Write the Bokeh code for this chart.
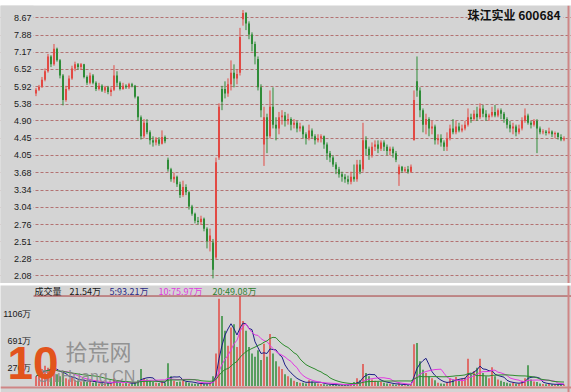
import pandas as pd
from bokeh.plotting import figure
from bokeh.layouts import column
from bokeh.models import (Range1d, FixedTicker, PrintfTickFormatter, Span, Label,
                          ColumnDataSource, Spacer, BoxAnnotation)
from bokeh.core.properties import value
from bokeh.embed import file_html
from bokeh.resources import INLINE

# ---------------- data ----------------
opens = [5.70, 5.82, 5.92, 6.15, 6.45, 7.00, 6.70, 7.30, 6.85, 6.30,
         5.50, 5.85, 6.20, 6.55, 6.70, 6.60, 6.70, 6.25, 6.05, 6.30,
         6.05, 5.85, 5.95, 5.80, 5.90, 5.75, 5.82, 6.30, 6.05, 5.85,
         5.95, 5.90, 6.00, 5.95, 5.60, 5.00, 4.50, 4.85, 4.60, 4.40,
         4.35, 4.42, 4.32, 4.48, 3.95, 3.75, 3.55, 3.60, 3.45, 3.25,
         3.40, 3.30, 3.05, 2.93, 2.82, 2.80, 2.85, 2.70, 2.52, 2.50,
         2.30, 4.00, 5.85, 5.85, 5.70, 6.00, 6.40, 6.20, 6.40, 8.60,
         8.90, 8.40, 7.90, 7.50, 6.90, 5.90, 4.30, 5.00, 4.50, 5.30,
         4.80, 4.70, 5.00, 5.05, 4.90, 4.95, 4.80, 4.85, 4.70, 4.75,
         4.55, 4.45, 4.65, 4.50, 4.40, 4.45, 4.50, 4.30, 4.10, 4.00,
         3.85, 3.75, 3.65, 3.60, 3.55, 3.50, 3.60, 3.55, 3.85, 3.75,
         4.40, 4.20, 4.05, 4.25, 4.30, 4.20, 4.35, 4.25, 4.15, 4.20,
         4.10, 3.65, 3.80, 3.72, 3.75, 3.70, 4.40, 6.10, 5.80, 5.20,
         4.80, 4.95, 4.70, 4.75, 4.40, 4.45, 4.35, 4.25, 4.45, 4.70,
         4.60, 4.75, 4.65, 4.70, 4.80, 5.00, 4.95, 5.10, 5.00, 5.25,
         5.10, 5.00, 5.05, 5.15, 5.05, 5.20, 5.10, 4.95, 4.80, 4.70,
         4.75, 4.60, 4.70, 4.90, 5.05, 4.85, 4.80, 4.90, 4.70, 4.60,
         4.62, 4.58, 4.62, 4.55, 4.58, 4.48, 4.42]
highs = [5.88, 5.98, 6.25, 6.55, 7.10, 7.05, 7.50, 7.35, 6.90, 6.35,
         5.95, 6.30, 6.65, 6.80, 6.75, 6.75, 6.72, 6.30, 6.40, 6.35,
         6.10, 6.05, 6.00, 5.95, 5.95, 5.90, 6.67, 6.45, 6.10, 6.05,
         6.00, 6.05, 6.05, 5.98, 5.62, 5.05, 4.95, 4.95, 4.65, 4.50,
         4.48, 4.48, 4.65, 4.52, 4.00, 3.78, 3.68, 3.62, 3.50, 3.52,
         3.45, 3.32, 3.08, 2.95, 2.88, 2.90, 2.87, 2.72, 2.70, 2.55,
         4.00, 5.40, 5.95, 6.10, 6.20, 6.85, 6.70, 6.50, 8.20, 9.05,
         8.95, 8.50, 8.00, 7.60, 7.00, 6.00, 5.30, 5.10, 5.80, 5.90,
         5.00, 5.15, 5.20, 5.15, 5.10, 5.00, 4.95, 4.90, 4.85, 4.78,
         4.60, 4.80, 4.70, 4.55, 4.55, 4.55, 4.52, 4.35, 4.15, 4.05,
         3.90, 3.80, 3.70, 3.65, 3.62, 3.70, 3.85, 3.95, 3.95, 4.85,
         4.50, 4.25, 4.35, 4.40, 4.40, 4.40, 4.40, 4.30, 4.25, 4.25,
         4.15, 3.85, 3.82, 3.80, 3.82, 3.85, 5.80, 7.00, 5.90, 5.25,
         5.10, 5.00, 4.90, 4.80, 4.55, 4.55, 4.40, 4.60, 4.80, 4.95,
         4.90, 4.85, 4.80, 4.90, 5.25, 5.10, 5.20, 5.30, 5.40, 5.35,
         5.20, 5.10, 5.30, 5.35, 5.25, 5.25, 5.15, 5.00, 4.90, 4.85,
         4.80, 4.80, 5.00, 5.25, 5.10, 4.90, 4.95, 4.95, 4.75, 4.68,
         4.66, 4.72, 4.65, 4.62, 4.60, 4.55, 4.50]
lows = [5.62, 5.78, 5.88, 6.10, 6.40, 6.60, 6.65, 6.80, 6.20, 5.34,
        5.45, 5.80, 6.15, 6.45, 6.50, 6.50, 6.20, 5.98, 6.00, 6.00,
        5.78, 5.80, 5.75, 5.72, 5.68, 5.62, 5.78, 5.95, 5.80, 5.82,
        5.85, 5.85, 5.90, 5.55, 4.90, 4.42, 4.45, 4.55, 4.30, 4.25,
        4.28, 4.27, 4.30, 4.33, 3.70, 3.50, 3.48, 3.40, 3.20, 3.22,
        3.25, 3.00, 2.90, 2.78, 2.76, 2.76, 2.66, 2.42, 2.38, 2.05,
        2.28, 3.95, 5.20, 5.55, 5.60, 5.80, 5.90, 6.00, 6.30, 8.30,
        8.10, 7.70, 7.20, 6.70, 5.80, 5.00, 3.82, 4.10, 4.45, 4.70,
        4.40, 4.55, 4.80, 4.75, 4.80, 4.65, 4.70, 4.60, 4.62, 4.45,
        4.30, 4.40, 4.45, 4.30, 4.35, 4.35, 4.20, 3.95, 3.90, 3.80,
        3.65, 3.58, 3.50, 3.48, 3.45, 3.45, 3.50, 3.50, 3.65, 3.70,
        4.05, 3.95, 4.00, 4.15, 4.10, 4.15, 4.15, 4.05, 4.05, 4.00,
        3.90, 3.42, 3.68, 3.68, 3.66, 3.68, 4.40, 5.60, 5.00, 4.60,
        4.55, 4.50, 4.55, 4.30, 4.30, 4.25, 4.15, 4.15, 4.40, 4.55,
        4.55, 4.60, 4.60, 4.65, 4.75, 4.85, 4.90, 4.90, 4.95, 5.00,
        4.90, 4.90, 5.00, 5.00, 5.00, 4.95, 4.85, 4.70, 4.60, 4.55,
        4.50, 4.55, 4.65, 4.85, 4.80, 4.70, 4.75, 4.10, 4.55, 4.55,
        4.52, 4.55, 4.48, 4.45, 4.42, 4.38, 4.38]
closes = [5.82, 5.92, 6.15, 6.45, 7.00, 6.70, 7.30, 6.85, 6.30, 5.50,
          5.85, 6.20, 6.55, 6.70, 6.60, 6.70, 6.25, 6.05, 6.30, 6.05,
          5.85, 5.95, 5.80, 5.90, 5.75, 5.82, 6.30, 6.05, 5.85, 5.95,
          5.90, 6.00, 5.95, 5.60, 5.00, 4.50, 4.85, 4.60, 4.40, 4.35,
          4.42, 4.32, 4.48, 4.38, 3.75, 3.55, 3.60, 3.45, 3.25, 3.40,
          3.30, 3.05, 2.93, 2.82, 2.80, 2.85, 2.70, 2.52, 2.60, 2.15,
          3.90, 5.30, 5.45, 5.70, 6.00, 6.40, 6.20, 6.35, 7.80, 8.90,
          8.40, 7.90, 7.50, 7.00, 5.90, 5.20, 5.00, 4.50, 5.30, 4.80,
          4.70, 5.00, 5.05, 4.90, 4.95, 4.80, 4.85, 4.70, 4.75, 4.55,
          4.45, 4.65, 4.50, 4.40, 4.45, 4.50, 4.30, 4.10, 4.00, 3.85,
          3.75, 3.65, 3.60, 3.55, 3.50, 3.60, 3.55, 3.85, 3.70, 4.40,
          4.20, 4.05, 4.25, 4.30, 4.20, 4.35, 4.25, 4.15, 4.20, 4.10,
          3.95, 3.80, 3.72, 3.75, 3.70, 3.80, 5.50, 5.80, 5.20, 4.80,
          4.95, 4.70, 4.75, 4.40, 4.45, 4.35, 4.25, 4.45, 4.70, 4.60,
          4.75, 4.65, 4.70, 4.80, 5.00, 4.95, 5.10, 5.00, 5.25, 5.10,
          5.00, 5.05, 5.15, 5.05, 5.20, 5.10, 4.95, 4.80, 4.70, 4.75,
          4.60, 4.70, 4.90, 5.05, 4.85, 4.80, 4.90, 4.70, 4.60, 4.62,
          4.58, 4.62, 4.55, 4.58, 4.48, 4.42, 4.45]
volumes = [150, 200, 260, 310, 280, 220, 300, 180, 150, 200,
           120, 100, 130, 90, 80, 70, 90, 60, 80, 50,
           60, 40, 50, 40, 45, 35, 120, 80, 50, 40,
           45, 35, 40, 60, 90, 260, 120, 100, 80, 60,
           50, 45, 70, 50, 350, 150, 80, 60, 70, 90,
           60, 50, 40, 35, 30, 40, 30, 40, 50, 150,
           500, 1340, 1075, 850, 620, 900, 950, 600, 1380, 1000,
           850, 600, 500, 450, 550, 400, 650, 450, 800, 500,
           380, 300, 260, 180, 150, 120, 80, 60, 50, 50,
           40, 90, 70, 50, 40, 30, 25, 20, 20, 18,
           20, 15, 18, 15, 20, 30, 60, 120, 90, 340,
           200, 150, 100, 80, 70, 60, 50, 40, 30, 25,
           20, 40, 15, 12, 15, 20, 640, 660, 380, 250,
           200, 150, 120, 90, 50, 40, 35, 60, 120, 100,
           140, 90, 110, 130, 420, 180, 230, 280, 420, 200,
           150, 120, 290, 150, 100, 80, 60, 50, 40, 50,
           35, 40, 80, 120, 320, 100, 70, 60, 40, 30,
           25, 30, 25, 20, 30, 25, 21.54]

price_ticks = [2.08, 2.28, 2.51, 2.76, 3.04, 3.34, 3.68, 4.05,
               4.45, 4.90, 5.38, 5.92, 6.52, 7.17, 7.88, 8.67]
volume_ticks = [276, 691, 1106]
stock_title = "珠江实业  600684"
header_texts = ["成交量", "21.54万", "5:93.21万", "10:75.97万", "20:49.08万"]
ma_windows = [5, 10, 20]

# ---------------- styles ----------------
BG = "#d4d4d4"
UP = "#e24a44"
DOWN = "#2f8c38"
GRID = "#b37272"
PINK = "#cf8585"
ma_colors = ["#1e1e86", "#e23ae2", "#2e8b2e"]
header_colors = ["#151515", "#151515", "#2a2a86", "#e03ae0", "#2e8030"]
header_x = [-0.5, 11.17, 24.5, 40.83, 58.83]
PANEL_LEFT = -0.833   # x index where the plotting area starts (pixel 33)

n = len(closes)
idx = list(range(n))
colors = [UP if c >= o else DOWN for o, c in zip(opens, closes)]
src = ColumnDataSource(dict(
    x=idx, high=highs, low=lows,
    top=[max(o, c) for o, c in zip(opens, closes)],
    bottom=[min(o, c) for o, c in zip(opens, closes)],
    color=colors, vol=volumes))

x_range = Range1d(-11.833, 178.5)


def style_axis(ax, standoff):
    ax.axis_line_color = None
    ax.major_tick_line_color = None
    ax.minor_tick_line_color = None
    ax.major_tick_out = 0
    ax.major_tick_in = 0
    ax.minor_tick_out = 0
    ax.minor_tick_in = 0
    ax.major_label_standoff = standoff
    ax.major_label_text_font = "Liberation Sans"
    ax.major_label_text_font_size = "9px"
    ax.major_label_text_color = "#1a1a1a"


# ---------------- price panel ----------------
p = figure(width=571, height=278, x_range=x_range, y_range=Range1d(1.993, 9.28),
           y_axis_type="log", output_backend="svg", toolbar_location=None,
           x_axis_location=None, background_fill_color=BG, border_fill_color=BG,
           outline_line_color=None, min_border_left=0, min_border_right=0,
           min_border_top=0, min_border_bottom=0)
p.ygrid.ticker = FixedTicker(ticks=price_ticks)
p.ygrid.grid_line_color = GRID
p.ygrid.grid_line_dash = "3 2"
p.ygrid.grid_line_width = 1
p.xgrid.visible = False
p.add_layout(BoxAnnotation(left=-13, right=PANEL_LEFT, fill_color=BG, fill_alpha=1,
                           line_color=None, level="underlay"))
p.segment(x0="x", y0="high", x1="x", y1="low", line_color="color", line_width=1, source=src)
p.vbar(x="x", width=0.67, top="top", bottom="bottom", fill_color="color",
       line_color=None, source=src)

p.yaxis.ticker = FixedTicker(ticks=price_ticks)
p.yaxis.formatter = PrintfTickFormatter(format="%.2f")
style_axis(p.yaxis[0], -31)
p.add_layout(Span(location=177.5, dimension="height", line_color=PINK, line_width=2))
p.add_layout(Label(x=175.8, y=8.83, text=stock_title, text_align="right",
                   text_baseline="middle", text_font="Noto Sans CJK SC",
                   text_font_size="12px", text_font_style="bold", text_color="#101010",
                   background_fill_color=BG))

# ---------------- separator ----------------
ps = figure(width=571, height=2, output_backend="svg", toolbar_location=None,
            x_axis_location=None, y_axis_location=None, background_fill_color=PINK,
            border_fill_color=PINK, outline_line_color=None, min_border=0)
ps.xgrid.visible = False
ps.ygrid.visible = False

# ---------------- volume panel ----------------
pv = figure(width=571, height=107, x_range=x_range, y_range=Range1d(-99.9, 1544.7),
            output_backend="svg", toolbar_location=None, x_axis_location=None,
            background_fill_color=BG, border_fill_color=BG, outline_line_color=None,
            min_border_left=0, min_border_right=0, min_border_top=0, min_border_bottom=0)
pv.xgrid.visible = False
pv.ygrid.visible = False
pv.vbar(x="x", width=0.5, top="vol", bottom=0, fill_color="color", line_color=None, source=src)
vol_series = pd.Series(volumes)
for w, col in zip(ma_windows, ma_colors):
    ma = vol_series.rolling(w, min_periods=1).mean().tolist()
    pv.line(idx, ma, line_color=col, line_width=1)

pv.yaxis.ticker = FixedTicker(ticks=volume_ticks)
pv.yaxis.formatter = PrintfTickFormatter(format="%d万")
style_axis(pv.yaxis[0], -31)

pv.text(x=header_x, y=[1460] * len(header_texts), text=header_texts,
        text_color=header_colors, text_font=value("Noto Sans CJK SC"),
        text_font_size="9px", text_baseline="middle", text_align="left")
pv.segment(x0=[PANEL_LEFT], x1=[178.5], y0=[1383], y1=[1383],
           line_color="#a83a3a", line_width=1)
pv.add_layout(Span(location=-23, dimension="width", line_color=PINK, line_width=2))
pv.add_layout(Span(location=177.5, dimension="height", line_color=PINK, line_width=2))

# watermark
pv.add_layout(Label(x=9.8, y=300, text="拾荒网", text_baseline="bottom",
                    text_font="Noto Sans CJK SC", text_font_size="22px",
                    text_color="#8a8a8a", text_alpha=0.9))
pv.add_layout(Label(x=0.5, y=10, text="ShiHuang.CN", text_baseline="bottom",
                    text_font="Liberation Sans", text_font_size="16px",
                    text_color="#8a8a8a", text_alpha=0.9))
pv.add_layout(Label(x=-9.5, y=361, text="10", text_baseline="middle",
                    text_font="Liberation Sans", text_font_size="46px",
                    text_font_style="bold", text_color="#e2541c"))

layout = column(Spacer(width=571, height=5), p, ps, pv)
open("out.html", "w").write(file_html(layout, INLINE))
